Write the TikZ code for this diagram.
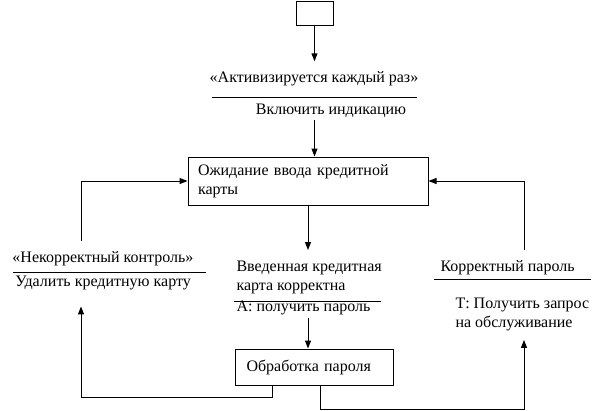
\documentclass[tikz,border=0pt]{standalone}
\usepackage{fontspec}
\setmainfont{Liberation Serif}
\usetikzlibrary{arrows.meta}
\begin{document}
\begin{tikzpicture}[x=1pt,y=-1pt,line width=1pt,
  arr/.style={-{Triangle[length=8pt,width=6pt]}},
  txt/.style={inner sep=2pt,font=\fontsize{16}{19}\selectfont},
  state/.style={draw,txt,align=left,inner xsep=10pt}]
\useasboundingbox (0,0) rectangle (610,410);

% top
\node[draw,minimum width=37pt,minimum height=24pt] (start) at (314.5,13) {};
\node[txt] (act) at (314,79) {«Активизируется каждый раз»};
\draw (212,97) -- (417,97);
\node[txt] (ind) at (331,111) {Включить индикацию};
\draw[arr] (start) -- ([yshift=8pt]act.north -| start);

% states
\node[state,text width=220pt,minimum height=48pt] (wait) at (308,181) {Ожидание ввода кредитной\\карты};
\node[state,text width=136pt,inner xsep=11pt,minimum height=36pt] (proc) at (314.5,367) {Обработка пароля};
\draw[arr] (ind.south -| start) -- (wait.north -| start);

% middle
\node[txt,anchor=west,align=left] (vvod) at (234,277) {Введенная кредитная\\карта корректна};
\draw (234,301) -- (381,301);
\node[txt,anchor=west] (get) at (234,308) {А: получить пароль};
\draw[arr] (wait) -- ([yshift=8pt]vvod.north -| wait);
\draw[arr] (get.south -| wait) -- (proc.north -| wait);

% left
\node[txt,anchor=west] (nk) at (10,259) {«Некорректный контроль»};
\draw (13,272) -- (206,272);
\node[txt,anchor=west] (del) at (13,283) {Удалить кредитную карту};
\coordinate (dl) at (81,397);
\draw[arr] ([yshift=8pt]nk.north -| dl) |- (wait.west);
\draw[arr] ([xshift=-42.5pt]proc.south) |- (dl) -- ([yshift=-14pt]del.south -| dl);

% right
\node[txt,anchor=west] (korr) at (438,268) {Корректный пароль};
\draw (434,279) -- (591,279);
\node[txt,anchor=west,align=left] (obs) at (453,314) {Т: Получить запрос\\на обслуживание};
\coordinate (dr) at (524,409);
\draw[arr] ([yshift=8pt]korr.north -| dr) |- (wait.east);
\draw[arr] ([xshift=5.5pt]proc.south) |- (dr) -- ([yshift=-7pt]obs.south -| dr);
\end{tikzpicture}
\end{document}
